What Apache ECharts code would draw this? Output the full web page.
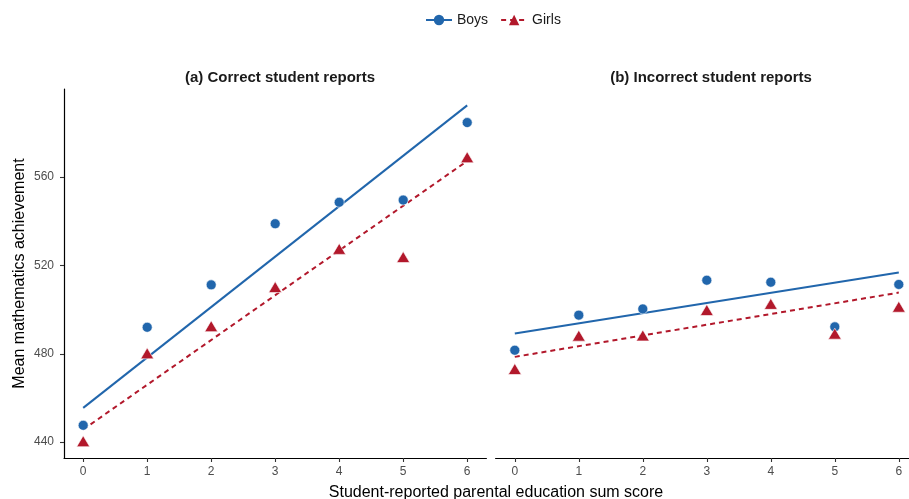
<!DOCTYPE html>
<html>
<head>
<meta charset="utf-8">
<script src="https://cdn.jsdelivr.net/npm/echarts@6/dist/echarts.min.js"></script>
<style>
  html, body { margin: 0; padding: 0; background: #fff; }
  #chart { width: 909px; height: 499px; }
</style>
</head>
<body>
<div id="chart"></div>
<script>
// Parental education sum score (x) and mean mathematics achievement per group
const scores = [0, 1, 2, 3, 4, 5, 6];
const xTicks = ['0', '1', '2', '3', '4', '5', '6'];
const yTicks = [440, 480, 520, 560];

// (a) Correct student reports
const correctBoys  = [447.6, 492.0, 511.2, 538.9, 548.6, 549.6, 584.7];
const correctGirls = [440.4, 480.2, 492.5, 510.2, 527.5, 523.8, 569.0];
const correctBoysFit  = [455.5, 592.5];
const correctGirlsFit = [445.7, 567.3];

// (b) Incorrect student reports
const incorrectBoys  = [481.6, 497.5, 500.3, 513.3, 512.4, 492.2, 511.4];
const incorrectGirls = [473.1, 488.2, 488.3, 499.8, 502.6, 489.1, 501.3];
const incorrectBoysFit  = [489.2, 516.8];
const incorrectGirlsFit = [478.6, 507.7];

const fitX = [scores[0], scores[scores.length - 1]];

const BLUE = '#2166ac';
const RED = '#b2182b';
const FONT = 'Liberation Sans, Arial, sans-serif';

const pairs = (xs, ys) => xs.map((x, i) => [x, ys[i]]);

// Both panels share 64 px per score unit; the right panel runs off the page edge.
function xAxisFor(gridIndex, max) {
  return {
    type: 'value', gridIndex, min: -0.3, max,
    axisLine: { show: true, onZero: false, lineStyle: { color: '#000', width: 1.2 } },
    axisTick: { show: true, length: 4, lineStyle: { color: '#333', width: 1.1 }, customValues: scores },
    axisLabel: {
      show: true, margin: 8, color: '#4d4d4d', fontSize: 12, fontFamily: FONT,
      customValues: scores, formatter: v => xTicks[scores.indexOf(v)]
    },
    splitLine: { show: false }
  };
}

function yAxisFor(gridIndex, visible) {
  return {
    type: 'value', gridIndex, min: 432.8, max: 599.9,
    axisLine: { show: visible, onZero: false, lineStyle: { color: '#000', width: 1.2 } },
    axisTick: { show: visible, length: 4, lineStyle: { color: '#333', width: 1.1 }, customValues: yTicks },
    axisLabel: {
      show: visible, margin: 10, color: '#4d4d4d', fontSize: 12, fontFamily: FONT,
      customValues: yTicks
    },
    splitLine: { show: false },
    name: visible ? 'Mean mathematics achievement' : '',
    nameLocation: 'middle', nameGap: 36,
    nameTextStyle: { color: '#000', fontSize: 16, fontFamily: FONT }
  };
}

function fitLine(name, idx, ys, color, dashed) {
  return {
    name, type: 'line', xAxisIndex: idx, yAxisIndex: idx,
    data: pairs(fitX, ys),
    symbol: name === 'Boys' ? 'circle' : 'triangle',
    symbolSize: name === 'Boys' ? 10 : 12,
    showSymbol: false,
    itemStyle: { color },
    lineStyle: { color, width: 2, type: dashed ? [5, 4] : 'solid' },
    silent: true, z: 2
  };
}

function points(name, idx, ys, color) {
  const tri = name === 'Girls';
  return {
    name, type: 'scatter', xAxisIndex: idx, yAxisIndex: idx,
    data: pairs(scores, ys),
    symbol: tri ? 'triangle' : 'circle',
    symbolSize: tri ? [13, 11] : 10,
    itemStyle: { color, opacity: 1, borderColor: '#fff', borderWidth: 0.6 },
    z: 3
  };
}

const chart = echarts.init(document.getElementById('chart'), null, { renderer: 'canvas' });

chart.setOption({
  animation: false,
  backgroundColor: '#fff',
  textStyle: { fontFamily: FONT },
  title: [
    { text: '(a) Correct student reports', left: 275, top: 65, textAlign: 'center',
      textStyle: { fontSize: 15, fontWeight: 'bold', color: '#1a1a1a', fontFamily: FONT } },
    { text: '(b) Incorrect student reports', left: 706, top: 65, textAlign: 'center',
      textStyle: { fontSize: 15, fontWeight: 'bold', color: '#1a1a1a', fontFamily: FONT } },
    { text: 'Student-reported parental education sum score', left: 491, top: 480, textAlign: 'center',
      textStyle: { fontSize: 16, fontWeight: 'normal', color: '#000', fontFamily: FONT } }
  ],
  legend: {
    data: ['Boys', 'Girls'],
    left: 420, top: 8,
    itemWidth: 26, itemHeight: 13, itemGap: 12,
    textStyle: { fontSize: 14, color: '#1a1a1a', fontFamily: FONT }
  },
  grid: [
    { left: 64, top: 89, width: 422.4, height: 369 },
    { left: 495.6, top: 89, right: 0, height: 369 }
  ],
  xAxis: [xAxisFor(0, 6.3), xAxisFor(1, -0.3 + (909 - 495.6) / 64)],
  yAxis: [yAxisFor(0, true), yAxisFor(1, false)],
  series: [
    fitLine('Boys', 0, correctBoysFit, BLUE, false),
    fitLine('Girls', 0, correctGirlsFit, RED, true),
    fitLine('Boys', 1, incorrectBoysFit, BLUE, false),
    fitLine('Girls', 1, incorrectGirlsFit, RED, true),
    points('Boys', 0, correctBoys, BLUE),
    points('Girls', 0, correctGirls, RED),
    points('Boys', 1, incorrectBoys, BLUE),
    points('Girls', 1, incorrectGirls, RED)
  ]
});
</script>
</body>
</html>
